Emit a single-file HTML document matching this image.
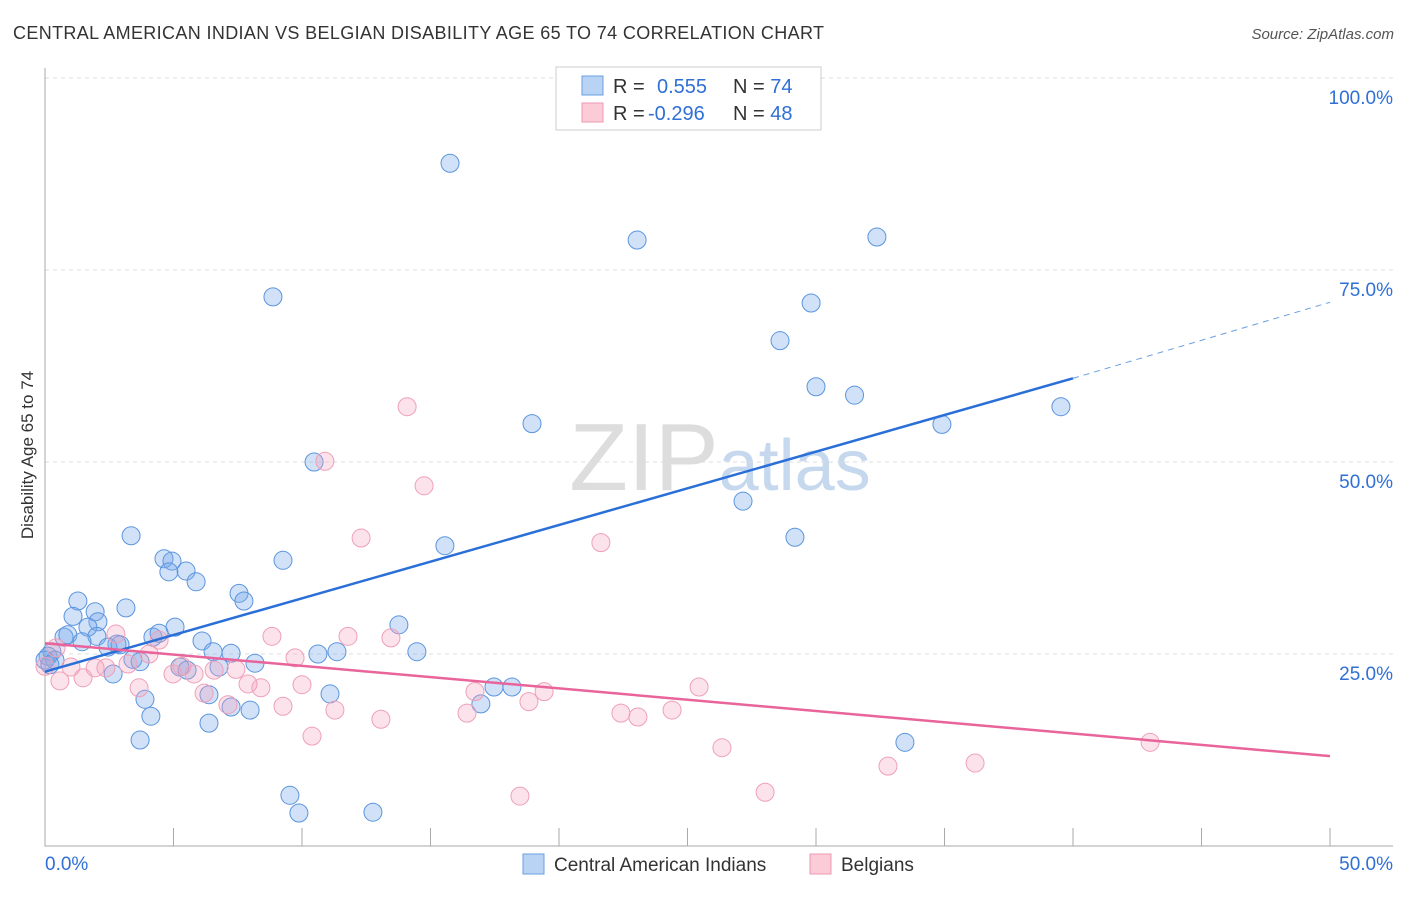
<!DOCTYPE html>
<html><head><meta charset="utf-8"><style>
body{margin:0;background:#fff;font-family:"Liberation Sans",sans-serif;}
svg text{font-family:"Liberation Sans",sans-serif;}
</style></head><body>
<svg id="chart" width="1406" height="892" xmlns="http://www.w3.org/2000/svg">
<text x="13" y="39" font-size="18" fill="#333" textLength="811">CENTRAL AMERICAN INDIAN VS BELGIAN DISABILITY AGE 65 TO 74 CORRELATION CHART</text>
<text x="1394" y="39" font-size="15" fill="#555" text-anchor="end" font-style="italic">Source: ZipAtlas.com</text>
<text x="720" y="490" font-size="96" fill="#ddd" text-anchor="middle" font-family="Liberation Serif">ZIP<tspan fill="#c5d8ee" font-family="Liberation Sans" font-size="72">atlas</tspan></text>
<text transform="translate(33,455) rotate(-90)" font-size="17" fill="#333" text-anchor="middle">Disability Age 65 to 74</text>
<g id="grid"></g><g id="axes"></g><g id="marks"></g>
<g>
<rect x="556" y="67" width="265" height="63" fill="#fff" stroke="#ccc"/>
<rect x="582" y="76" width="21" height="19" fill="#b8d3f3" stroke="#6a9fe0"/>
<rect x="582" y="103" width="21" height="19" fill="#fbcbd8" stroke="#ee98b0"/>
<text x="613" y="93" font-size="20" fill="#333">R = <tspan fill="#2f6fd6" x="657">0.555</tspan><tspan x="733">N = </tspan><tspan fill="#2f6fd6">74</tspan></text>
<text x="613" y="120" font-size="20" fill="#333">R = <tspan fill="#2f6fd6" x="648">-0.296</tspan><tspan x="733">N = </tspan><tspan fill="#2f6fd6">48</tspan></text>
</g>
<g>
<rect x="523" y="854" width="21" height="20" fill="#b8d3f3" stroke="#6a9fe0"/>
<text x="554" y="871" font-size="19" fill="#333">Central American Indians</text>
<rect x="810" y="854" width="21" height="20" fill="#fbcbd8" stroke="#ee98b0"/>
<text x="841" y="871" font-size="19" fill="#333">Belgians</text>
</g>
</svg>
<script>
const xTicks=[0,5,10,15,20,25,30,35,40,45,50];
const yTicks=[25,50,75,100];
const yTickLabels=["25.0%","50.0%","75.0%","100.0%"];
const xLabels=["0.0%","50.0%"];
const blueX=[15.76,23.04,32.37,8.87,29.81,28.6,30.0,31.5,18.95,34.9,39.53,10.47,27.16,29.18,15.56,3.35,4.63,4.94,4.82,5.49,5.88,9.26,7.55,7.74,1.28,3.15,1.95,1.09,2.06,1.67,5.06,13.77,0.74,0.89,2.02,1.44,4.2,4.44,6.11,2.8,2.45,2.92,0.27,0.12,0.39,6.54,7.24,11.36,10.62,14.47,3.42,3.7,8.17,5.25,5.53,6.77,2.65,6.38,3.89,11.09,17.47,18.17,16.96,7.24,7.98,4.12,6.38,3.7,33.46,9.53,9.88,12.76,0.0,0.19];
const blueY=[88.9,78.9,79.3,71.5,70.7,65.8,59.8,58.7,55.0,54.9,57.2,50.0,44.9,40.2,39.1,40.4,37.4,37.1,35.7,35.8,34.4,37.2,32.9,31.9,31.9,31.0,30.5,29.9,29.2,28.5,28.5,28.8,27.2,27.5,27.3,26.6,27.2,27.7,26.7,26.3,25.9,26.2,25.3,24.7,24.2,25.3,25.1,25.3,25.0,25.3,24.3,24.0,23.8,23.3,22.9,23.3,22.4,19.7,19.1,19.8,20.7,20.7,18.5,18.1,17.7,16.9,16.0,13.8,13.5,6.6,4.3,4.4,24.2,23.6];
const pinkX=[14.09,10.89,14.75,12.3,21.63,2.76,4.44,8.83,11.79,13.46,0.43,4.05,9.73,0,1.01,1.95,2.37,3.23,5.33,5.8,4.98,6.58,7.43,0.58,1.48,3.66,7.9,8.4,10.0,6.19,7.12,16.73,19.42,25.45,18.83,9.26,11.28,16.42,22.41,23.07,24.4,13.07,10.39,26.34,32.8,36.19,43.0,18.48,28.02];
const pinkY=[57.2,50.1,46.9,40.1,39.5,27.6,26.8,27.3,27.3,27.1,25.8,25.0,24.5,23.4,23.3,23.2,23.2,23.7,23.4,22.4,22.4,22.9,23.0,21.5,21.9,20.6,21.1,20.6,21.0,19.9,18.4,20.1,20.1,20.7,18.8,18.2,17.7,17.3,17.3,16.8,17.7,16.5,14.3,12.8,10.4,10.8,13.5,6.5,7.0];
const blueTrend=[22.7,60.9,70.8]; // y at x=0, x=40, x=50
const pinkTrend=[26.4,11.7]; // y at x=0, x=50
const X=v=>45+v*25.7, Y=v=>846-v*7.68;
const NS="http://www.w3.org/2000/svg";
function mk(parent,tag,attrs){const e=document.createElementNS(NS,tag);for(const k in attrs)e.setAttribute(k,attrs[k]);document.getElementById(parent).appendChild(e);return e;}
yTicks.forEach((t,i)=>{
 const l=mk('grid','line',{x1:45,x2:1393,y1:Y(t),y2:Y(t),stroke:'#ddd','stroke-dasharray':'4,4'});
 
 
 const tx=mk('grid','text',{x:1393,y:Y(t)+26,'font-size':19,fill:'#2f6fd6','text-anchor':'end'});tx.textContent=yTickLabels[i];
 
 
});
const ax=mk('axes','path',{d:'M45,68V846H1393',stroke:'#aaa',fill:'none'});


xTicks.forEach(t=>{const l=mk('axes','line',{x1:X(t),x2:X(t),y1:828,y2:846,stroke:'#aaa'});
 
 });
const xl0=mk('axes','text',{x:45,y:870,'font-size':19,fill:'#2f6fd6'});xl0.textContent=xLabels[0];


const xl1=mk('axes','text',{x:1393,y:870,'font-size':19,fill:'#2f6fd6','text-anchor':'end'});xl1.textContent=xLabels[1];


blueX.forEach((v,i)=>{const c=mk('marks','circle',{cx:X(v),cy:Y(blueY[i]),r:9,fill:'rgba(120,170,235,0.35)',stroke:'#5b95de','stroke-width':1});
 
 });
pinkX.forEach((v,i)=>{const c=mk('marks','circle',{cx:X(v),cy:Y(pinkY[i]),r:9,fill:'rgba(245,160,185,0.3)',stroke:'#efa0b8','stroke-width':1});
 
 });
const bt=mk('marks','line',{x1:X(0),y1:Y(blueTrend[0]),x2:X(40),y2:Y(blueTrend[1]),stroke:'#2a6fd8','stroke-width':2.5});


const bd=mk('marks','line',{x1:X(40),y1:Y(blueTrend[1]),x2:X(50),y2:Y(blueTrend[2]),stroke:'#6a9fe0','stroke-width':1,'stroke-dasharray':'6,5'});


const pt=mk('marks','line',{x1:X(0),y1:Y(pinkTrend[0]),x2:X(50),y2:Y(pinkTrend[1]),stroke:'#e8649a','stroke-width':2.5});


</script>
</body></html>
